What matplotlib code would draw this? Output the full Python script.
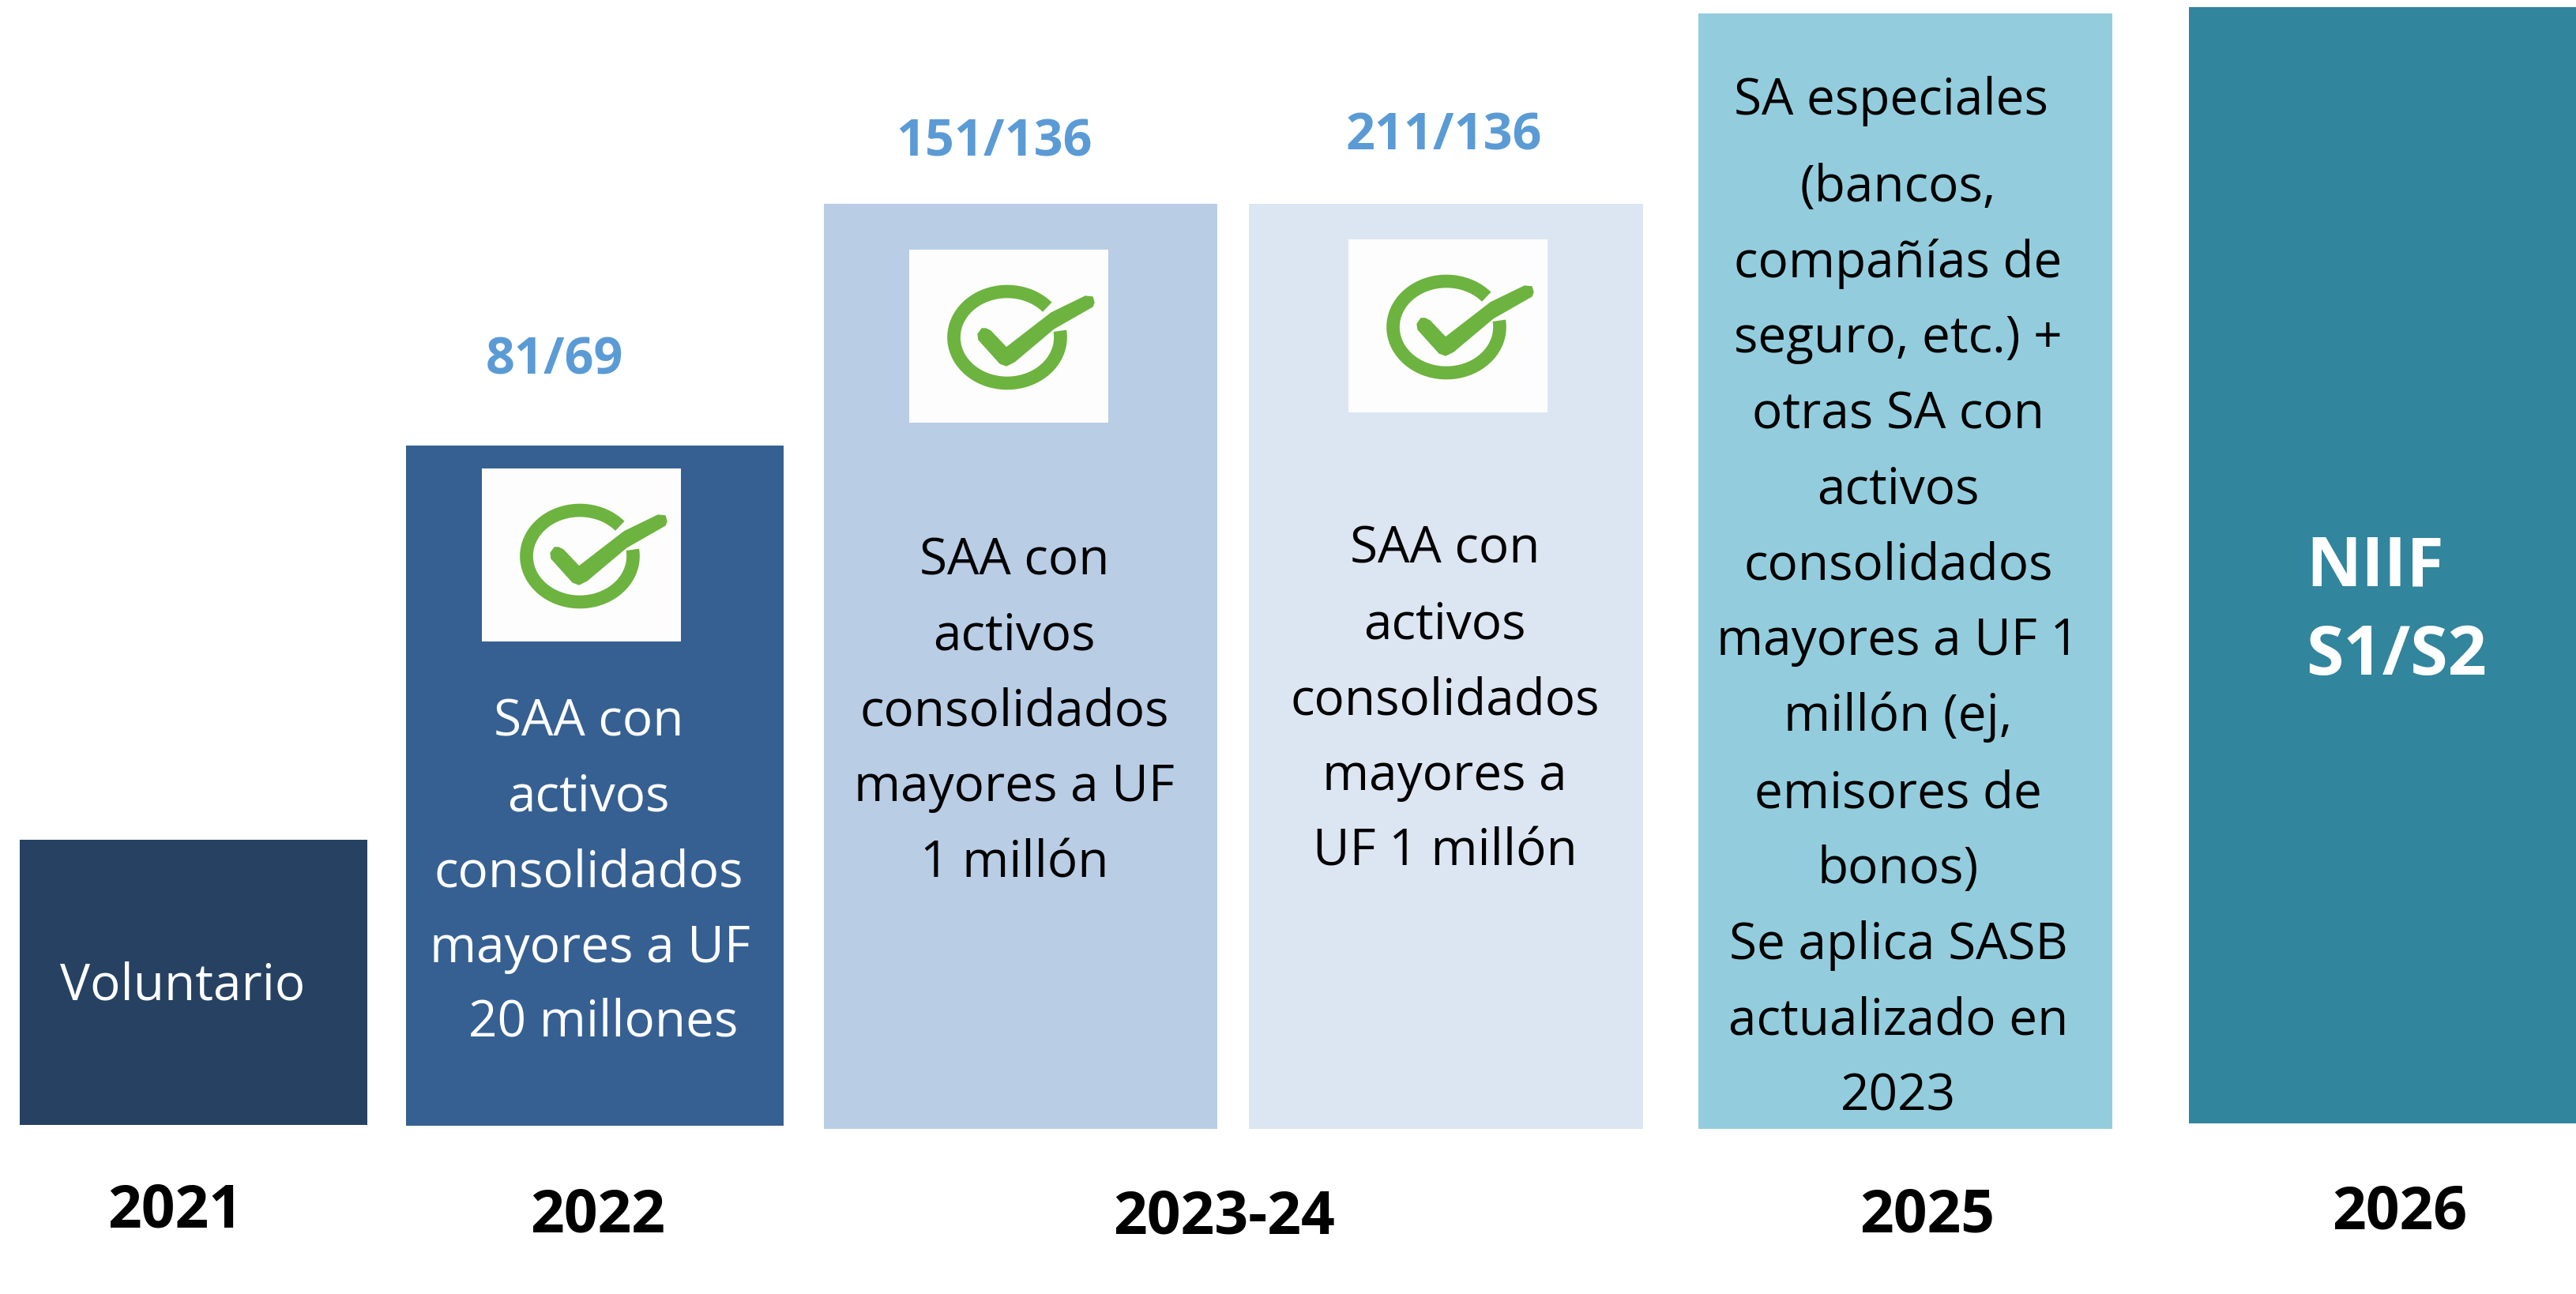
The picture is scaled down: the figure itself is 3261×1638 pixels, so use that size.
import matplotlib
matplotlib.use('Agg')
import matplotlib.pyplot as plt
from matplotlib.patches import Arc, Polygon, Rectangle

plt.rcParams['font.family'] = ['Open Sans', 'DejaVu Sans']

# barras, en pixeles de la imagen
left = [25, 514, 1043, 1581, 2150, 2771]
right = [465, 992, 1541, 2080, 2674, 3262]
top = [1063, 564, 258, 258, 17, 9]
bottom = [1424, 1425, 1429, 1429, 1429, 1422]
colors = ['#264162', '#366092', '#b9cde5', '#dce6f2', '#93cddd', '#31859c']

years = ['2021', '2022', '2023-24', '2025', '2026']
year_x = [222, 757, 1550, 2440, 3038]
year_y = [1554, 1560, 1562, 1559, 1555]

counts = ['81/69', '151/136', '211/136']
count_x = [702, 1258, 1828]
count_y = [453, 177, 168]

text_2022 = ['SAA con', 'activos', 'consolidados', 'mayores a UF', '20 millones']
text_2022_x = [745, 745, 745, 747, 764]
text_2022_y = [437, 483, 529, 575, 620]

text_2023 = ['SAA con', 'activos', 'consolidados', 'mayores a UF', '1 millón']
text_2023_x = [1284, 1284, 1284, 1284, 1284]
text_2023_y = [339, 385, 431, 477, 523]

text_2024 = ['SAA con', 'activos', 'consolidados', 'mayores a', 'UF 1 millón']
text_2024_x = [1829, 1829, 1829, 1829, 1829]
text_2024_y = [332, 378, 424, 470, 516]

text_2025 = ['SA especiales', '(bancos,', 'compañías de', 'seguro, etc.) +', 'otras SA con',
             'activos', 'consolidados', 'mayores a UF 1', 'millón (ej,', 'emisores de',
             'bonos)', 'Se aplica SASB', 'actualizado en', '2023']
text_2025_x = [2394, 2403, 2403, 2403, 2403, 2403, 2403, 2403, 2403, 2403, 2403, 2403, 2403, 2403]
text_2025_y = [59, 112, 158, 204, 250, 296, 342, 388, 434, 481, 527, 573, 619, 665]

# esquina izquierda y superior de cada icono
icon_x = [610, 1151, 1707]
icon_y = [593, 316, 303]

# silueta del visto, relativa a la esquina del icono
tick_x = [97, 103, 123, 180, 223, 232, 234, 232, 183, 133, 123, 115, 88, 87, 92]
tick_y = [100, 103, 124, 80, 59, 60, 67, 72, 100, 142, 147, 144, 114, 107, 100]

S = 3262 / 1568
GREEN = '#6db33f'


def check(ax, x0, y0):
    ax.add_patch(Rectangle((x0, y0), 252, 219, fc='#fdfdfd', ec='none', zorder=3))
    # el eje y esta invertido, los angulos van al reves
    ax.add_patch(Arc((x0 + 124, y0 + 111), 135, 116, theta1=-7, theta2=323,
                     ec=GREEN, lw=12, zorder=4))
    pts = [(x0 + a, y0 + b) for a, b in zip(tick_x, tick_y)]
    ax.add_patch(Polygon(pts, closed=True, fc=GREEN, ec=GREEN, lw=1, joinstyle='round', zorder=5))


def lines(ax, rows, xs, ys, color, size=46):
    for t, x, y in zip(rows, xs, ys):
        ax.text(x, y * S + 22, t, color=color, fontsize=size, ha='center', va='baseline', zorder=6)


fig = plt.figure(figsize=(32.62, 16.38), dpi=100)
ax = fig.add_axes([0, 0, 1, 1])
ax.set_xlim(0, 3262)
ax.set_ylim(1638, 0)
ax.axis('off')

widths = [r - l for l, r in zip(left, right)]
heights = [b - t for t, b in zip(top, bottom)]
ax.bar(left, heights, width=widths, bottom=top, align='edge', color=colors, zorder=2)

for x, y in zip(icon_x, icon_y):
    check(ax, x, y)

ax.text(231, 1265, 'Voluntario', color='white', fontsize=46, ha='center', va='baseline', zorder=6)
lines(ax, text_2022, text_2022_x, text_2022_y, 'white')
lines(ax, text_2023, text_2023_x, text_2023_y, 'black')
lines(ax, text_2024, text_2024_x, text_2024_y, 'black')
lines(ax, text_2025, text_2025_x, text_2025_y, 'black')

ax.text(2919, 742, 'NIIF', color='white', fontsize=62, fontweight='bold', va='baseline', zorder=6)
ax.text(2919, 854, 'S1/S2', color='white', fontsize=62, fontweight='bold', va='baseline', zorder=6)

for t, x, y in zip(counts, count_x, count_y):
    ax.text(x, y + 21, t, color='#5b9bd5', fontsize=46.5, fontweight='bold', ha='center', va='baseline')

for t, x, y in zip(years, year_x, year_y):
    ax.text(x, y, t, color='black', fontsize=54, fontweight='bold', ha='center', va='baseline')

fig.savefig('out.png', dpi=100)
